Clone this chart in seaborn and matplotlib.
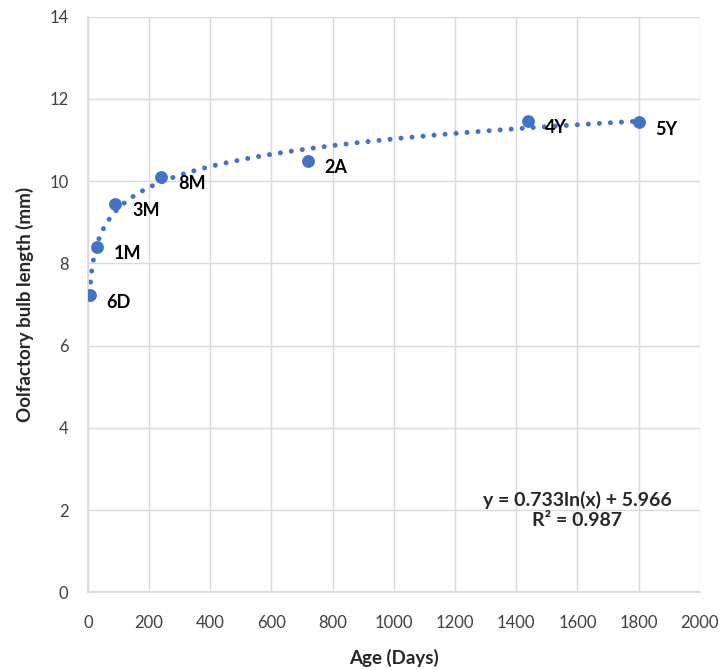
import numpy as np
import pandas as pd
import matplotlib
matplotlib.use("Agg")
import matplotlib.pyplot as plt
import seaborn as sns

# age in days and bulb length (mm)
age_days = [6, 30, 90, 240, 720, 1440, 1800]
bulb_len = [7.23, 8.41, 9.45, 10.11, 10.50, 11.47, 11.43]
age_labels = ["6D", "1M", "3M", "8M", "2A", "4Y", "5Y"]

# log trendline shown on the chart
fit_a = 0.733
fit_b = 5.966
r2 = 0.987

sns.set_theme(style="white")
plt.rcParams["font.family"] = ["Lato", "DejaVu Sans"]

blue = "#4472C4"
df = pd.DataFrame({"age": age_days, "length": bulb_len, "label": age_labels})

fig = plt.figure(figsize=(7.2, 6.7), dpi=100)
ax = fig.add_axes([0.122, 0.116, 0.85, 0.859])

xs = np.linspace(min(age_days), max(age_days), 400)
trend = pd.DataFrame({"age": xs, "length": fit_a * np.log(xs) + fit_b})
sns.lineplot(data=trend, x="age", y="length", ax=ax, color=blue, lw=3.6,
             dashes=False)
ax.lines[0].set_linestyle((0, (0.01, 2.2)))
ax.lines[0].set_dash_capstyle("round")

sns.scatterplot(data=df, x="age", y="length", ax=ax, color=blue, s=85,
                edgecolor=blue, linewidth=0, zorder=3)

for _, r in df.iterrows():
    ax.annotate(r["label"], (r["age"], r["length"]), xytext=(12, -5),
                textcoords="offset points", fontsize=13, fontweight="bold",
                color="black", va="center", ha="left")

ax.text(0.80, 0.143, f"y = {fit_a}ln(x) + {fit_b}\nR² = {r2}",
        transform=ax.transAxes, ha="center", va="center", fontsize=14,
        fontweight="bold", linespacing=1.15)

ax.set_xlim(0, 2000)
ax.set_ylim(0, 14)
ax.set_xticks(range(0, 2001, 200))
ax.set_yticks(range(0, 15, 2))
ax.grid(True, color="#D9D9D9", lw=1)
ax.tick_params(axis="both", labelsize=12, colors="#404040", length=0)
ax.tick_params(axis="x", pad=16)
ax.tick_params(axis="y", pad=14)
for s in ["top", "right"]:
    ax.spines[s].set_visible(False)
for s in ["left", "bottom"]:
    ax.spines[s].set_color("#D9D9D9")
ax.set_xlabel("Age (Days)", fontsize=13.5, fontweight="bold", labelpad=13)
ax.set_ylabel("Oolfactory bulb length (mm)", fontsize=13.5, fontweight="bold",
              labelpad=11)

fig.savefig("out.png", dpi=100)
